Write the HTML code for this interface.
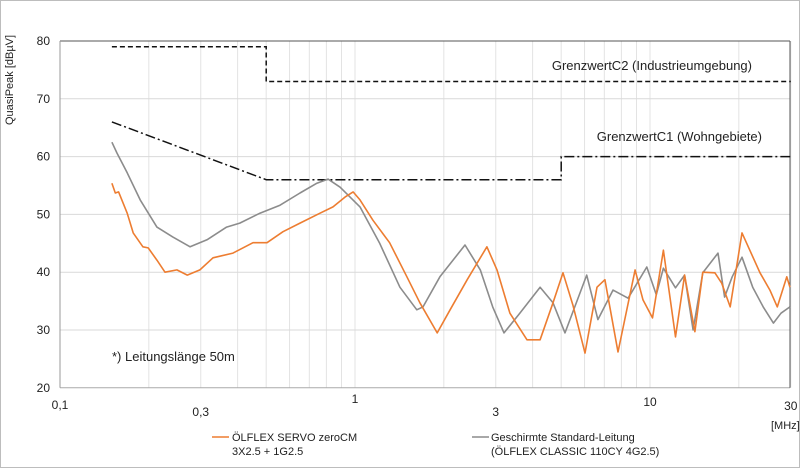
<!DOCTYPE html>
<html><head><meta charset="utf-8"><style>
html,body{margin:0;padding:0;background:#fff;}
svg{display:block;font-family:"Liberation Sans",sans-serif;}
</style></head><body>
<svg id="chart" width="800" height="468" viewBox="0 0 800 468">
<rect x="0.5" y="0.5" width="799" height="467" fill="#fff" stroke="#bdbdbd"/>
<g id="grid"></g>
<g id="limits"></g>
<g id="series"></g>
<g id="labels"></g>
<text x="13" y="80" transform="rotate(-90 13 80)" text-anchor="middle" font-size="11" fill="#222">QuasiPeak [dBµV]</text>
<text x="752" y="70" text-anchor="end" font-size="13" fill="#222">GrenzwertC2 (Industrieumgebung)</text>
<text x="762" y="141" text-anchor="end" font-size="13" fill="#222">GrenzwertC1 (Wohngebiete)</text>
<text x="112" y="361" font-size="13" fill="#222">*) Leitungslänge 50m</text>
<text x="771" y="429" font-size="11" fill="#222">[MHz]</text>
<g>
<line x1="212" y1="437" x2="229" y2="437" stroke="#ed7d31" stroke-width="1.5"/>
<text x="232" y="441" font-size="11" fill="#222">ÖLFLEX SERVO zeroCM</text>
<text x="232" y="455" font-size="11" fill="#222">3X2.5 + 1G2.5</text>
</g>
<g>
<line x1="472" y1="437" x2="489" y2="437" stroke="#8c8c8c" stroke-width="1.5"/>
<text x="491" y="441" font-size="11" fill="#222">Geschirmte Standard-Leitung</text>
<text x="491" y="455" font-size="11" fill="#222">(ÖLFLEX CLASSIC 110CY 4G2.5)</text>
</g>
</svg>
<script>
const yTicks=[20,30,40,50,60,70,80];
const xGrid=[0.2,0.3,0.4,0.5,0.6,0.7,0.8,0.9,1,2,3,4,5,6,7,8,9,10,20,30];
const xTickVals=[0.1,0.3,1,3,10,30];
const xTickLabels=["0,1","0,3","1","3","10","30"];
const c2Freq=[0.15,0.5,0.5,30];
const c2Val=[79,79,73,73];
const c1Freq=[0.15,0.5,5,5,30];
const c1Val=[66,56,56,60,60];
const servoFreq=[0.15,0.154,0.158,0.169,0.177,0.191,0.199,0.213,0.227,0.249,0.27,0.298,0.33,0.386,0.451,0.503,0.57,0.651,0.761,0.842,0.925,0.985,1.04,1.15,1.31,1.5,1.66,1.9,2.1,2.4,2.8,3.03,3.35,3.83,4.24,4.69,5.07,5.48,6.02,6.61,7.03,7.79,8.9,9.47,10.2,11.1,12.2,13.1,14.2,15.1,16.6,17.5,18.7,20.5,21.8,23.6,25.5,27.0,29.1,29.8];
const servoVal=[55.4,53.7,53.9,50.2,46.8,44.4,44.2,42.1,40.0,40.4,39.5,40.4,42.5,43.3,45.1,45.1,47.0,48.5,50.2,51.3,53.0,53.9,52.5,49.0,45.1,39.2,34.7,29.5,33.5,38.7,44.4,40.4,32.9,28.3,28.3,34.7,39.9,34.3,26.0,37.4,38.7,26.2,40.4,35.2,32.1,43.8,28.8,39.5,29.7,40.0,39.9,38.1,34.0,46.8,43.8,39.9,36.9,34.0,39.2,37.4];
const stdFreq=[0.15,0.156,0.169,0.187,0.213,0.241,0.276,0.315,0.367,0.407,0.476,0.557,0.651,0.743,0.81,0.89,1.04,1.21,1.42,1.62,1.7,1.94,2.36,2.66,2.93,3.2,3.62,4.24,4.69,5.15,6.1,6.66,7.49,8.43,9.75,10.5,11.1,12.2,13.1,14.0,15.1,17.0,17.9,19.0,20.5,22.3,24.2,26.2,27.8,29.8];
const stdVal=[62.5,60.6,57.2,52.5,47.8,46.1,44.4,45.6,47.8,48.5,50.2,51.6,53.7,55.4,56.1,54.7,51.3,45.1,37.4,33.5,34.0,39.2,44.7,40.4,34.0,29.5,32.9,37.4,34.7,29.5,39.5,31.8,36.9,35.5,40.9,36.1,40.7,37.3,39.5,30.0,39.9,43.3,35.7,39.2,42.6,37.4,34.0,31.2,32.9,34.0];

const NS="http://www.w3.org/2000/svg";
const X0=60,DEC=295,Y0=41,PX10=57.8,XR=790;
function xs(f){return X0+DEC*(Math.log10(f)+1);}
function ys(v){return Y0+(80-v)*PX10/10;}
function mk(tag,attrs,parent){const e=document.createElementNS(NS,tag);for(const k in attrs)e.setAttribute(k,attrs[k]);parent.appendChild(e);return e;}
const grid=document.getElementById('grid'),lim=document.getElementById('limits'),ser=document.getElementById('series'),lab=document.getElementById('labels');
xGrid.forEach(f=>{const l=mk('line',{x1:xs(f),x2:xs(f),y1:Y0,y2:ys(20),stroke:'#e3e3e3','stroke-width':1},grid);

});
yTicks.forEach(v=>{const l=mk('line',{x1:X0,x2:XR,y1:ys(v),y2:ys(v),stroke:(v==80?'#555':(v==20?'#aaa':'#d9d9d9')),'stroke-width':1},grid);


const t=mk('text',{x:50,y:ys(v)+4,'text-anchor':'end','font-size':12,fill:'#222'},lab);t.textContent=v;

});
const ax=mk('line',{x1:X0,x2:X0,y1:Y0,y2:ys(20),stroke:'#999'},grid);


const ar=mk('line',{x1:XR,x2:XR,y1:Y0,y2:ys(20),stroke:'#555'},grid);


const xOff=[409,416,403,416,406,410];
xTickVals.forEach((f,i)=>{const t=mk('text',{x:xs(f),y:xOff[i],'text-anchor':'middle','font-size':12,fill:'#222'},lab);t.textContent=xTickLabels[i];

});
function pts(F,V){return F.map((f,i)=>xs(f).toFixed(1)+','+ys(V[i]).toFixed(1)).join(' ');}
const p2=mk('polyline',{points:pts(c2Freq,c2Val),fill:'none',stroke:'#111','stroke-width':1.5,'stroke-dasharray':'5,3'},lim);


const p1=mk('polyline',{points:pts(c1Freq,c1Val),fill:'none',stroke:'#111','stroke-width':1.5,'stroke-dasharray':'10,3,2,3'},lim);


const sg=mk('polyline',{points:pts(stdFreq,stdVal),fill:'none',stroke:'#8c8c8c','stroke-width':1.6,'stroke-linejoin':'round'},ser);


const so=mk('polyline',{points:pts(servoFreq,servoVal),fill:'none',stroke:'#ed7d31','stroke-width':1.6,'stroke-linejoin':'round'},ser);


</script>
</body></html>
